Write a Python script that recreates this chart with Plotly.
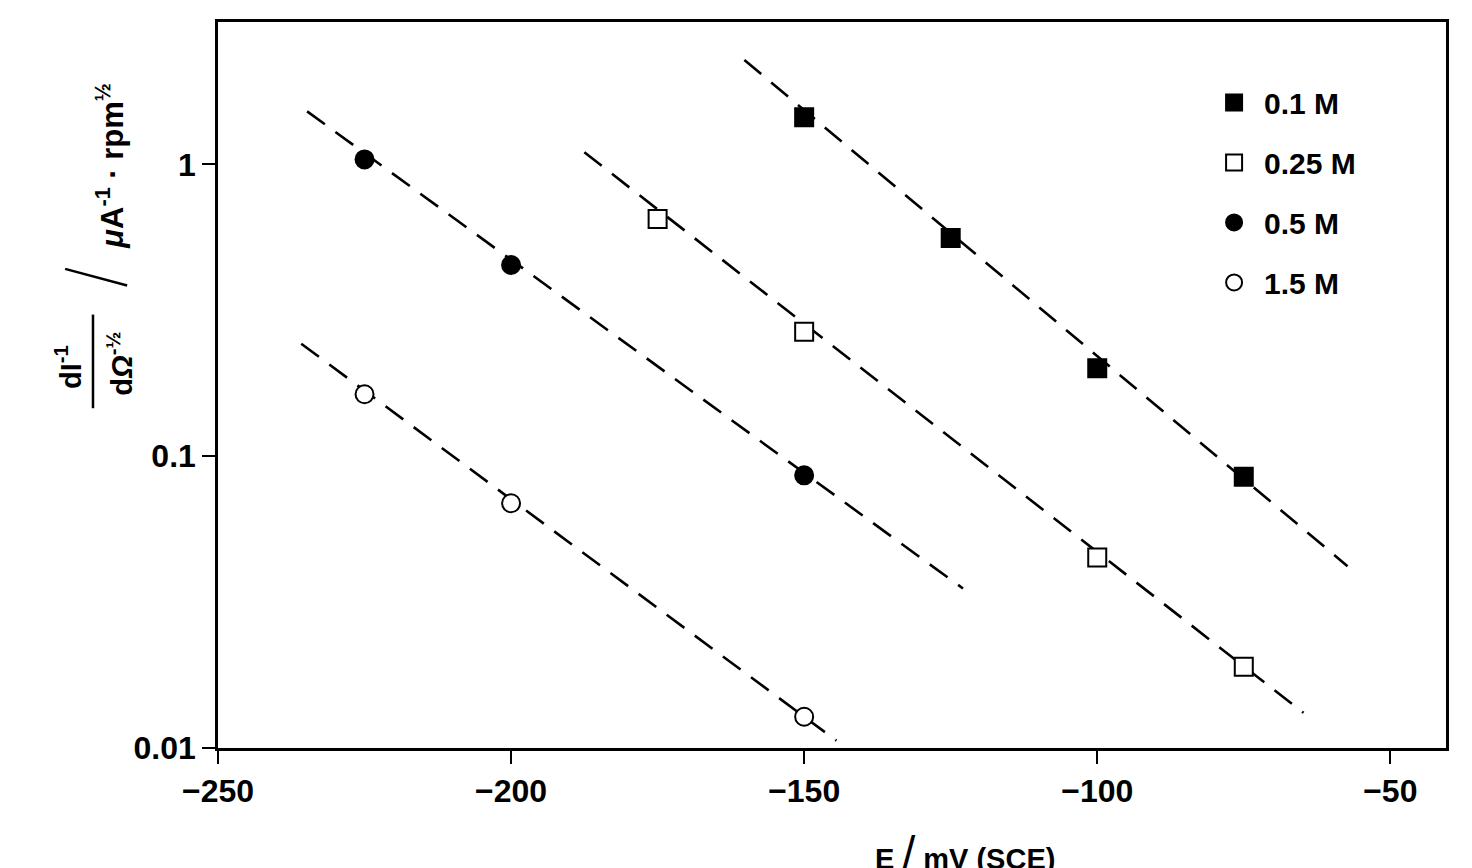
import plotly.graph_objects as go

# === DATA ===
labels = ["0.1 M", "0.25 M", "0.5 M", "1.5 M"]

# measured points: potential E (mV vs SCE) and dI^-1/dΩ^-1/2
e_01 = [-150, -125, -100, -75]
v_01 = [1.45, 0.56, 0.20, 0.085]
e_025 = [-175, -150, -100, -75]
v_025 = [0.65, 0.267, 0.045, 0.019]
e_05 = [-225, -200, -150]
v_05 = [1.04, 0.452, 0.086]
e_15 = [-225, -200, -150]
v_15 = [0.163, 0.069, 0.0128]

# dashed fit lines (end points)
fit_e_01 = [-160.2, -57.3]
fit_v_01 = [2.28, 0.042]
fit_e_025 = [-187.5, -64.8]
fit_v_025 = [1.10, 0.0132]
fit_e_05 = [-234.8, -122.9]
fit_v_05 = [1.52, 0.0352]
fit_e_15 = [-235.8, -144.5]
fit_v_15 = [0.243, 0.0106]

x_ticks = [-250, -200, -150, -100, -50]
y_ticks = [0.01, 0.1, 1]
y_ticktext = ["0.01", "0.1", "1"]

FONT = "Liberation Sans, Arial, sans-serif"
INK = "black"

# (label, x, y, fit x, fit y, symbol, fill)
series = [
    (labels[0], e_01, v_01, fit_e_01, fit_v_01, "square", INK),
    (labels[1], e_025, v_025, fit_e_025, fit_v_025, "square", "white"),
    (labels[2], e_05, v_05, fit_e_05, fit_v_05, "circle", INK),
    (labels[3], e_15, v_15, fit_e_15, fit_v_15, "circle", "white"),
]

fig = go.Figure()

# dashed fit lines first so markers sit on top
for name, ex, vy, fx, fy, sym, fill in series:
    fig.add_trace(go.Scatter(
        x=fx, y=fy, mode="lines",
        line=dict(color=INK, width=2.6, dash="22px,13px"),
        showlegend=False, hoverinfo="skip",
    ))

for i, (name, ex, vy, fx, fy, sym, fill) in enumerate(series):
    fig.add_trace(go.Scatter(
        x=ex, y=vy, mode="markers", name=f"<b>{name}</b>",
        legendgroup=f"g{i}",
        marker=dict(symbol=sym, size=18, color=fill,
                    line=dict(color=INK, width=2)),
    ))

# === Y AXIS TITLE (built from pieces) ===
ann = dict(xref="paper", yref="paper", showarrow=False, textangle=-90,
           xanchor="center", yanchor="middle")
fig.add_annotation(x=-0.122, y=0.525, text="<b>dI<sup>-1</sup></b>",
                   font=dict(family=FONT, size=29, color=INK), **ann)
fig.add_annotation(x=-0.080, y=0.529, text="<b>d<i>Ω</i><sup>-½</sup></b>",
                   font=dict(family=FONT, size=29, color=INK), **ann)
# fraction bar
fig.add_shape(type="line", xref="paper", yref="paper",
              x0=-0.1018, x1=-0.1018, y0=0.468, y1=0.597,
              line=dict(color=INK, width=2.5))
# separating slash
fig.add_shape(type="line", xref="paper", yref="paper",
              x0=-0.1245, x1=-0.0740, y0=0.660, y1=0.637,
              line=dict(color=INK, width=2.5))
fig.add_annotation(x=-0.088, y=0.802,
                   text="<b><i>μ</i>A<sup>-1</sup> · rpm<sup>½</sup></b>",
                   font=dict(family=FONT, size=31, color=INK), **ann)

# === X AXIS TITLE ===
fig.add_annotation(xref="paper", yref="paper", x=0.608, y=-0.145,
                   xanchor="center", yanchor="middle", showarrow=False,
                   text="<b>E</b> <span style='font-size:46px'>/</span> <b>mV (SCE)</b>",
                   font=dict(family=FONT, size=29, color=INK))

fig.update_layout(
    width=1464, height=860,
    margin=dict(l=210, r=26, t=11, b=120),
    paper_bgcolor="white", plot_bgcolor="white",
    font=dict(family=FONT, color=INK, size=28),
    legend=dict(
        x=0.803, y=0.925, xanchor="left", yanchor="top",
        font=dict(family=FONT, size=30, color=INK),
        traceorder="grouped", tracegroupgap=18,
        bgcolor="rgba(0,0,0,0)", itemwidth=50,
    ),
    xaxis=dict(
        range=[-250, -40.5], tickvals=x_ticks,
        ticks="outside", ticklen=13, tickwidth=2, tickcolor=INK,
        showline=True, linecolor=INK, linewidth=2.5, mirror=True,
        showgrid=False, zeroline=False,
        tickfont=dict(family=FONT, size=32, color=INK, weight="bold"),
    ),
    yaxis=dict(
        type="log", range=[-2, 0.488], tickvals=y_ticks, ticktext=y_ticktext,
        ticks="outside", ticklen=13, tickwidth=2, tickcolor=INK,
        showline=True, linecolor=INK, linewidth=2.5, mirror=True,
        showgrid=False, zeroline=False,
        tickfont=dict(family=FONT, size=32, color=INK, weight="bold"),
    ),
)

fig.write_html("out.html")
